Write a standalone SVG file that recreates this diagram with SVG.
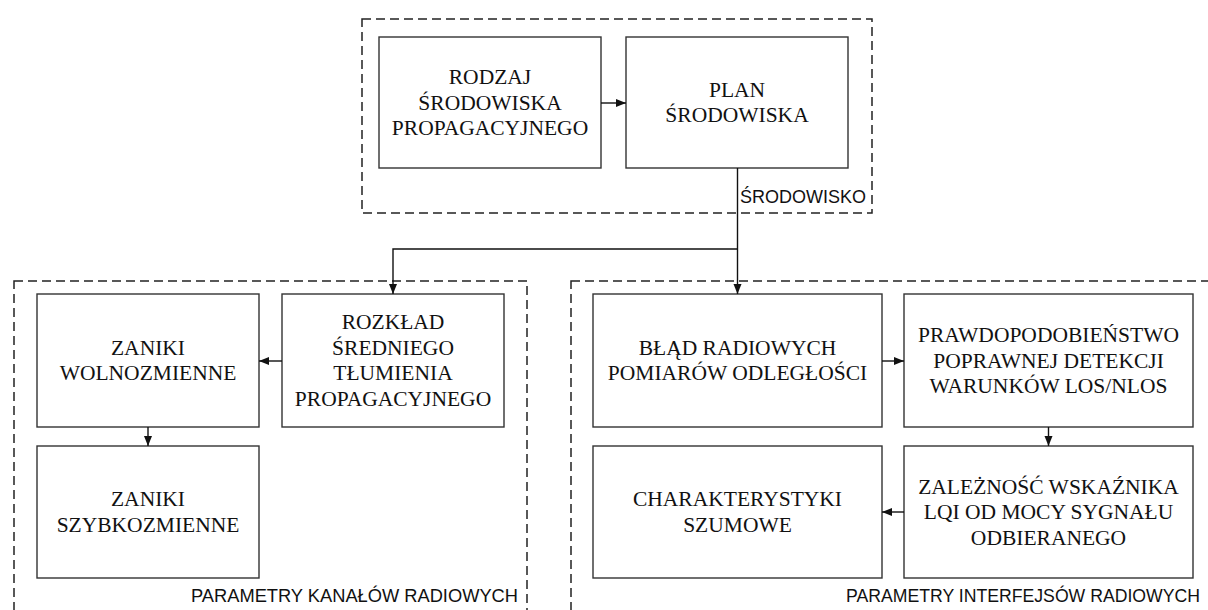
<svg xmlns="http://www.w3.org/2000/svg" width="1208" height="610" viewBox="0 0 1208 610">
<style>
.node rect{fill:#fff;stroke:#333;stroke-width:1.4}
.node text{font-family:"Liberation Serif","Times New Roman",serif;font-size:21.5px;fill:#111;text-anchor:middle}
.group{fill:none;stroke:#222;stroke-width:1.5;stroke-dasharray:9 5}
.glabel{font-family:"Liberation Sans",Arial,sans-serif;font-size:18.5px;fill:#111}
#connectors path{fill:none;stroke:#111;stroke-width:1.4}
</style>
<defs>
<marker id="arr" markerUnits="userSpaceOnUse" markerWidth="10" markerHeight="10" viewBox="0 0 10 10" refX="10" refY="5" orient="auto">
<path d="M0,1 L10,5 L0,9 Z" fill="#111"/>
</marker>
</defs>
<rect width="1208" height="610" fill="#fff"/>
<g id="groups">
<rect class="group" x="362" y="19" width="510" height="194"/>
<rect class="group" x="14" y="281" width="513" height="345"/>
<rect class="group" x="571" y="281" width="660" height="345"/>
<text class="glabel" x="740" y="203" textLength="126" lengthAdjust="spacingAndGlyphs">ŚRODOWISKO</text>
<text class="glabel" x="191" y="602" textLength="327" lengthAdjust="spacingAndGlyphs">PARAMETRY KANAŁÓW RADIOWYCH</text>
<text class="glabel" x="846" y="602" font-size="17.2" textLength="354" lengthAdjust="spacingAndGlyphs">PARAMETRY INTERFEJSÓW RADIOWYCH</text>
</g>
<g id="n-rodzaj" class="node">
<rect x="379" y="37" width="222" height="131"/>
<text x="490" y="84">RODZAJ</text>
<text x="490" y="109.5">ŚRODOWISKA</text>
<text x="490" y="135">PROPAGACYJNEGO</text>
</g>
<g id="n-plan" class="node">
<rect x="626" y="37" width="222" height="131"/>
<text x="737" y="96.75">PLAN</text>
<text x="737" y="122.25">ŚRODOWISKA</text>
</g>
<g id="n-zaniki-w" class="node">
<rect x="37" y="294" width="222" height="133"/>
<text x="148" y="354.75">ZANIKI</text>
<text x="148" y="380.25">WOLNOZMIENNE</text>
</g>
<g id="n-rozklad" class="node">
<rect x="282" y="294" width="222" height="133"/>
<text x="393" y="329">ROZKŁAD</text>
<text x="393" y="354.5">ŚREDNIEGO</text>
<text x="393" y="380">TŁUMIENIA</text>
<text x="393" y="405.5">PROPAGACYJNEGO</text>
</g>
<g id="n-zaniki-s" class="node">
<rect x="37" y="446" width="222" height="132"/>
<text x="148" y="506.25">ZANIKI</text>
<text x="148" y="531.75">SZYBKOZMIENNE</text>
</g>
<g id="n-blad" class="node">
<rect x="593" y="294" width="289" height="133"/>
<text x="737.5" y="354.75">BŁĄD RADIOWYCH</text>
<text x="737.5" y="380.25">POMIARÓW ODLEGŁOŚCI</text>
</g>
<g id="n-prawd" class="node">
<rect x="904" y="294" width="289" height="133"/>
<text x="1048.5" y="342">PRAWDOPODOBIEŃSTWO</text>
<text x="1048.5" y="367.5">POPRAWNEJ DETEKCJI</text>
<text x="1048.5" y="393">WARUNKÓW LOS/NLOS</text>
</g>
<g id="n-charakt" class="node">
<rect x="593" y="446" width="289" height="132"/>
<text x="737.5" y="506.25">CHARAKTERYSTYKI</text>
<text x="737.5" y="531.75">SZUMOWE</text>
</g>
<g id="n-zalez" class="node">
<rect x="904" y="446" width="289" height="132"/>
<text x="1048.5" y="493.5">ZALEŻNOŚĆ WSKAŹNIKA</text>
<text x="1048.5" y="519">LQI OD MOCY SYGNAŁU</text>
<text x="1048.5" y="544.5">ODBIERANEGO</text>
</g>
<g id="connectors">
<path d="M601,103 H626" marker-end="url(#arr)"/>
<path d="M737.5,168 V294" marker-end="url(#arr)"/>
<path d="M737.5,249 H393 V294" marker-end="url(#arr)"/>
<path d="M282,361 H259" marker-end="url(#arr)"/>
<path d="M148,427 V446" marker-end="url(#arr)"/>
<path d="M882,361 H904" marker-end="url(#arr)"/>
<path d="M1048.5,427 V446" marker-end="url(#arr)"/>
<path d="M904,512 H882" marker-end="url(#arr)"/>
</g>
</svg>
